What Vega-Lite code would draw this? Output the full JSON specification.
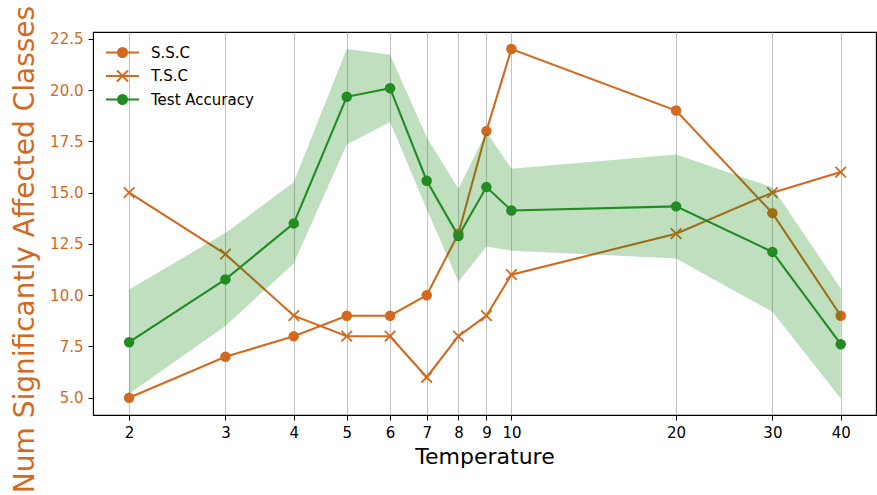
{
  "$schema": "https://vega.github.io/schema/vega-lite/v6.json",
  "width": 783,
  "height": 383,
  "autosize": {"type": "none"},
  "padding": {"left": 93, "top": 32, "right": 1, "bottom": 80},
  "background": "white",
  "config": {
    "font": "DejaVu Sans",
    "view": {"stroke": "black", "strokeWidth": 1.1},
    "axis": {"domainColor": "black", "tickColor": "black", "tickSize": 5, "labelPadding": 5, "labelFontSize": 15, "labelColor": "black", "titleFontWeight": "normal"}
  },
  "datasets": {
    "counts": [
      {"T": 2, "series": "S.S.C", "value": 5},
      {"T": 3, "series": "S.S.C", "value": 7},
      {"T": 4, "series": "S.S.C", "value": 8},
      {"T": 5, "series": "S.S.C", "value": 9},
      {"T": 6, "series": "S.S.C", "value": 9},
      {"T": 7, "series": "S.S.C", "value": 10},
      {"T": 8, "series": "S.S.C", "value": 13},
      {"T": 9, "series": "S.S.C", "value": 18},
      {"T": 10, "series": "S.S.C", "value": 22},
      {"T": 20, "series": "S.S.C", "value": 19},
      {"T": 30, "series": "S.S.C", "value": 14},
      {"T": 40, "series": "S.S.C", "value": 9},
      {"T": 2, "series": "T.S.C", "value": 15},
      {"T": 3, "series": "T.S.C", "value": 12},
      {"T": 4, "series": "T.S.C", "value": 9},
      {"T": 5, "series": "T.S.C", "value": 8},
      {"T": 6, "series": "T.S.C", "value": 8},
      {"T": 7, "series": "T.S.C", "value": 6},
      {"T": 8, "series": "T.S.C", "value": 8},
      {"T": 9, "series": "T.S.C", "value": 9},
      {"T": 10, "series": "T.S.C", "value": 11},
      {"T": 20, "series": "T.S.C", "value": 13},
      {"T": 30, "series": "T.S.C", "value": 15},
      {"T": 40, "series": "T.S.C", "value": 16},
      {"T": 2, "series": "Test Accuracy", "value": 7.71},
      {"T": 3, "series": "Test Accuracy", "value": 10.77},
      {"T": 4, "series": "Test Accuracy", "value": 13.5},
      {"T": 5, "series": "Test Accuracy", "value": 19.67},
      {"T": 6, "series": "Test Accuracy", "value": 20.09},
      {"T": 7, "series": "Test Accuracy", "value": 15.58},
      {"T": 8, "series": "Test Accuracy", "value": 12.88},
      {"T": 9, "series": "Test Accuracy", "value": 15.27},
      {"T": 10, "series": "Test Accuracy", "value": 14.13},
      {"T": 20, "series": "Test Accuracy", "value": 14.33},
      {"T": 30, "series": "Test Accuracy", "value": 12.11},
      {"T": 40, "series": "Test Accuracy", "value": 7.61}
    ],
    "band": [
      {"T": 2, "lower": 5.2, "upper": 10.28},
      {"T": 3, "lower": 8.5, "upper": 13.03},
      {"T": 4, "lower": 11.55, "upper": 15.51},
      {"T": 5, "lower": 17.35, "upper": 22.0},
      {"T": 6, "lower": 18.44, "upper": 21.72},
      {"T": 7, "lower": 14.2, "upper": 17.7},
      {"T": 8, "lower": 10.65, "upper": 15.19},
      {"T": 9, "lower": 12.37, "upper": 17.95},
      {"T": 10, "lower": 12.17, "upper": 16.17},
      {"T": 20, "lower": 11.79, "upper": 16.86},
      {"T": 30, "lower": 9.19, "upper": 15.26},
      {"T": 40, "lower": 4.97, "upper": 10.33}
    ]
  },
  "layer": [
    {
      "data": {"name": "counts"},
      "transform": [{"filter": "datum.series !== 'Test Accuracy'"}],
      "mark": {"type": "line", "strokeWidth": 2.1, "clip": true},
      "encoding": {
        "x": {"field": "T", "type": "quantitative",
          "scale": {"type": "log", "domain": [1.718, 46.4], "nice": false},
          "axis": {"values": [2, 3, 4, 5, 6, 7, 8, 9, 10, 20, 30, 40], "format": "d", "grid": true, "gridColor": "#b0b0b0", "gridOpacity": 0.75, "gridWidth": 1.1, "title": "Temperature", "titleFontSize": 22, "titleColor": "black", "titlePadding": 6}},
        "y": {"field": "value", "type": "quantitative",
          "scale": {"domain": [4.16, 22.83], "nice": false, "zero": false},
          "axis": {"values": [5, 7.5, 10, 12.5, 15, 17.5, 20, 22.5], "format": ".1f", "grid": false, "labelColor": "#d2691e", "title": "Num Significantly Affected Classes", "titleColor": "#d2691e", "titleFontSize": 28, "titlePadding": 10, "titleY": 217}},
        "color": {"field": "series", "type": "nominal",
          "scale": {"domain": ["S.S.C", "T.S.C", "Test Accuracy"], "range": ["#d2691e", "#d2691e", "#228b22"]},
          "legend": {
            "title": null, "orient": "none", "legendX": 22, "legendY": 13, "padding": 0,
            "labelFontSize": 15, "labelColor": "black", "labelOffset": 21, "rowPadding": 5.5,
            "symbolSize": 100,
            "encode": {"symbols": {"update": {
              "shape": {"signal": "datum.value === 'T.S.C' ? 'M-3.3,0H3.3M-1.1,-1.1L1.1,1.1M-1.1,1.1L1.1,-1.1' : 'M-3.3,0H3.3M0.9,0A0.9,0.9,0,1,1,-0.9,0A0.9,0.9,0,1,1,0.9,0'"},
              "fill": {"signal": "datum.value === 'T.S.C' ? 'transparent' : (datum.value === 'Test Accuracy' ? '#228b22' : '#d2691e')"},
              "stroke": {"signal": "datum.value === 'Test Accuracy' ? '#228b22' : '#d2691e'"},
              "strokeWidth": {"value": 2},
              "size": {"value": 100},
              "opacity": {"value": 1},
              "fillOpacity": {"value": 1},
              "strokeOpacity": {"value": 1}
            }}}
          }},
        "detail": {"field": "series"}
      }
    },
    {
      "data": {"name": "counts"},
      "transform": [{"filter": "datum.series === 'S.S.C'"}],
      "mark": {"type": "point", "shape": "circle", "filled": true, "opacity": 1, "size": 110},
      "encoding": {
        "x": {"field": "T", "type": "quantitative"},
        "y": {"field": "value", "type": "quantitative"},
        "color": {"field": "series", "type": "nominal"}
      }
    },
    {
      "data": {"name": "counts"},
      "transform": [{"filter": "datum.series === 'T.S.C'"}],
      "mark": {"type": "point", "shape": "M-1,-1L1,1M-1,1L1,-1", "filled": false, "opacity": 1, "size": 110, "strokeWidth": 1.8},
      "encoding": {
        "x": {"field": "T", "type": "quantitative"},
        "y": {"field": "value", "type": "quantitative"},
        "color": {"field": "series", "type": "nominal"}
      }
    },
    {
      "data": {"name": "band"},
      "mark": {"type": "area", "color": "green", "opacity": 0.25},
      "encoding": {
        "x": {"field": "T", "type": "quantitative"},
        "y": {"field": "lower", "type": "quantitative"},
        "y2": {"field": "upper"}
      }
    },
    {
      "data": {"name": "counts"},
      "transform": [{"filter": "datum.series === 'Test Accuracy'"}],
      "mark": {"type": "line", "strokeWidth": 2.1},
      "encoding": {
        "x": {"field": "T", "type": "quantitative"},
        "y": {"field": "value", "type": "quantitative"},
        "color": {"field": "series", "type": "nominal"}
      }
    },
    {
      "data": {"name": "counts"},
      "transform": [{"filter": "datum.series === 'Test Accuracy'"}],
      "mark": {"type": "point", "shape": "circle", "filled": true, "opacity": 1, "size": 110},
      "encoding": {
        "x": {"field": "T", "type": "quantitative"},
        "y": {"field": "value", "type": "quantitative"},
        "color": {"field": "series", "type": "nominal"}
      }
    }
  ]
}
